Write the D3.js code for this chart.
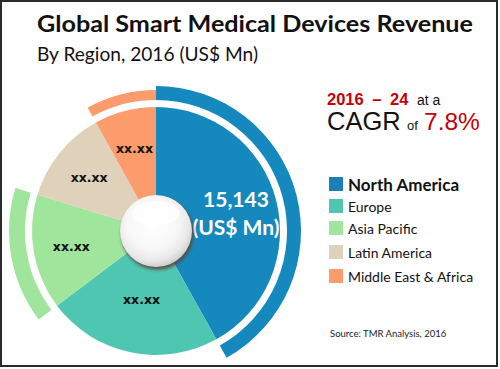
<!DOCTYPE html>
<html><head><meta charset="utf-8">
<script src="https://cdn.jsdelivr.net/npm/d3@7"></script>
<style>html,body{margin:0;padding:0;background:#fff;}svg{display:block;}</style>
</head><body>
<script>
// ---- data ----
const regions = ["North America", "Europe", "Asia Pacific", "Latin America", "Middle East & Africa"];
const revenue = [15143, 8240, 5420, 4420, 2910];
const sliceLabels = ["15,143", "xx.xx", "xx.xx", "xx.xx", "xx.xx"];
const colors = ["#1589bd", "#4ec6b1", "#9fe59b", "#e0d2ba", "#fc9b6b"];
const legendColors = ["#1a80b8", "#4ec6b1", "#9fe59b", "#e0d2ba", "#fc9b6b"];
const highlighted = ["North America", "Asia Pacific", "Middle East & Africa"];

const W = 500, H = 369;
const svg = d3.select("body").append("svg").attr("width", W).attr("height", H);
const defs = svg.append("defs");

// frame
svg.append("rect").attr("x", 1).attr("y", 1).attr("width", 496).attr("height", 365)
  .attr("fill", "#fff").attr("stroke", "#2a2a2a").attr("stroke-width", 2);

// titles
svg.append("text").attr("x", 37).attr("y", 32).text("Global Smart Medical Devices Revenue")
  .attr("font-family", "Lato").attr("font-weight", 700).attr("font-size", 23.5)
  .attr("textLength", 436).attr("lengthAdjust", "spacingAndGlyphs").attr("fill", "#111");
svg.append("text").attr("x", 37).attr("y", 61).text("By Region, 2016 (US$ Mn)")
  .attr("font-family", "Lato").attr("font-size", 18.5)
  .attr("textLength", 221).attr("lengthAdjust", "spacingAndGlyphs").attr("fill", "#111");

// CAGR block
const red = "#c4000b";
svg.append("text").attr("x", 327).attr("y", 105).attr("font-family", "Liberation Sans, Arial")
  .attr("fill", red).attr("font-weight", 700).attr("font-size", 16.5)
  .attr("word-spacing", 4).text("2016 – 24");
svg.append("text").attr("x", 417).attr("y", 105).attr("font-family", "Liberation Sans, Arial")
  .attr("fill", "#111").attr("font-size", 14).text("at a");
svg.append("text").attr("x", 327).attr("y", 130).attr("font-family", "Liberation Sans, Arial")
  .attr("fill", "#111").attr("font-size", 25.5).text("CAGR");
svg.append("text").attr("x", 407).attr("y", 130).attr("font-family", "Liberation Sans, Arial")
  .attr("fill", "#111").attr("font-size", 13).text("of");
svg.append("text").attr("x", 424).attr("y", 130).attr("font-family", "Liberation Sans, Arial")
  .attr("fill", red).attr("font-size", 24.5).text("7.8%");

// pie
const cx = 156, cy = 231, R = 124;
const g = svg.append("g").attr("transform", `translate(${cx},${cy})`);
const pie = d3.pie().sort(null).value(d => d)(revenue);
const arc = d3.arc().innerRadius(0).outerRadius(R);
g.selectAll("path.slice").data(pie).join("path").attr("class", "slice")
  .attr("d", arc).attr("fill", (d, i) => colors[i]);

// outer highlight arcs
const outerR = {"North America": 145, "Asia Pacific": 147, "Middle East & Africa": 141};
g.selectAll("path.ring").data(pie.filter((d, i) => highlighted.includes(regions[i])))
  .join("path").attr("class", "ring")
  .attr("d", d => d3.arc().innerRadius(131).outerRadius(outerR[regions[d.index]])(d))
  .attr("fill", d => colors[d.index]);

// labels
g.selectAll("text.lbl").data(pie.slice(1)).join("text").attr("class", "lbl")
  .each(function(d) {
    const r = d.index === 1 ? 70 : 86;
    const c = d3.arc().innerRadius(r).outerRadius(r).centroid(d);
    d3.select(this).attr("x", c[0]).attr("y", c[1] + 5).attr("text-anchor", "middle")
      .attr("font-family", "DejaVu Sans").attr("font-weight", 700)
      .attr("font-size", 12.5).attr("fill", "#111").text(sliceLabels[d.index]);
  });
// North America value
const naText = svg.append("text").attr("text-anchor", "middle").attr("fill", "#fff")
  .attr("font-family", "Lato").attr("font-weight", 700).attr("font-size", 21);
naText.append("tspan").attr("x", 236).attr("y", 207).text(sliceLabels[0]);
naText.append("tspan").attr("x", 236).attr("y", 235).text("(US$ Mn)");

// centre button
const grad = defs.append("radialGradient").attr("id", "btn").attr("cx", "45%").attr("cy", "40%").attr("r", "60%");
[[0, "#ffffff"], [0.6, "#f7f7f7"], [0.85, "#e8e8e8"], [1, "#d0d0d0"]].forEach(s =>
  grad.append("stop").attr("offset", s[0]).attr("stop-color", s[1]));
const blur = defs.append("filter").attr("id", "blur").attr("x", "-30%").attr("y", "-30%").attr("width", "160%").attr("height", "160%");
blur.append("feGaussianBlur").attr("stdDeviation", 1.4);
svg.append("circle").attr("cx", cx + 1.5).attr("cy", cy + 2.5).attr("r", 36.5)
  .attr("fill", "#5b4a3e").attr("filter", "url(#blur)").attr("opacity", 0.85);
svg.append("circle").attr("cx", cx).attr("cy", cy).attr("r", 36).attr("fill", "url(#btn)");
svg.append("ellipse").attr("cx", cx).attr("cy", cy - 18).attr("rx", 24).attr("ry", 12)
  .attr("fill", "#fff").attr("opacity", 0.7);

// legend
const ly = [177, 199, 221, 245, 269];
const leg = svg.append("g");
regions.forEach((r, i) => {
  leg.append("rect").attr("x", 329).attr("y", ly[i]).attr("width", 14).attr("height", 14)
    .attr("fill", legendColors[i]);
  leg.append("text").attr("x", 348).attr("y", ly[i] + (i === 0 ? 13.5 : 12.5)).text(r)
    .attr("font-family", "Lato").attr("font-weight", i === 0 ? 700 : 400)
    .attr("font-size", i === 0 ? 17 : 14).attr("fill", "#111");
});

// source
svg.append("text").attr("x", 330).attr("y", 337).text("Source: TMR Analysis, 2016")
  .attr("font-family", "Lato").attr("font-size", 9.5).attr("fill", "#222");
</script>
</body></html>
